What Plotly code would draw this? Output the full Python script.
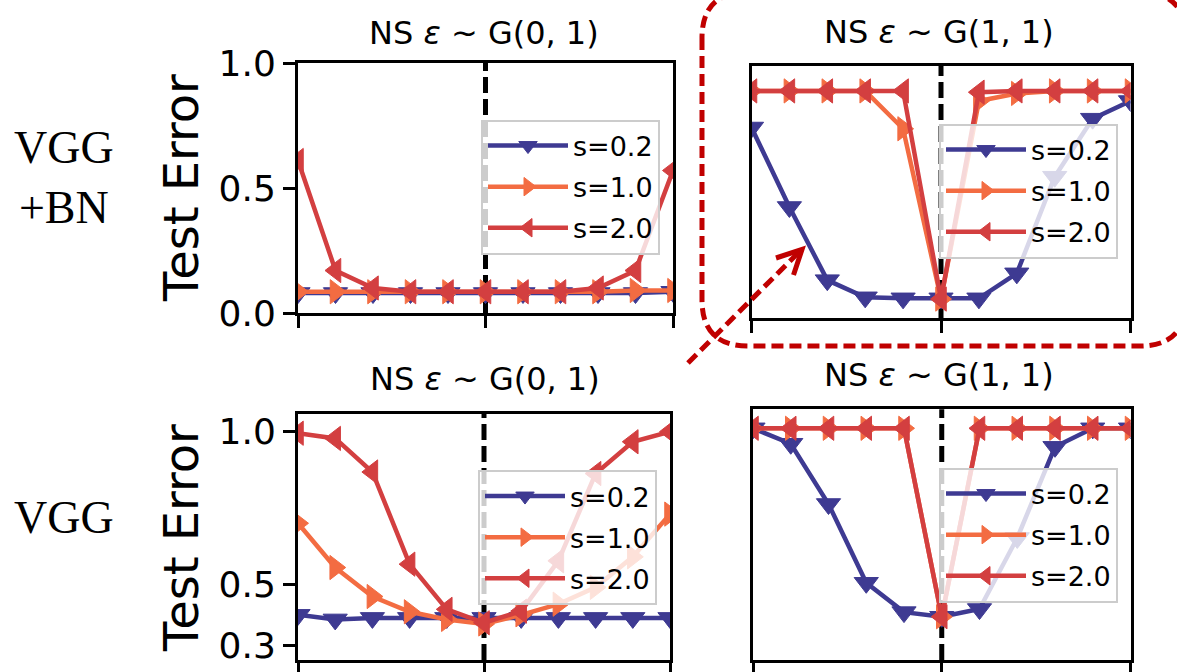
import plotly.graph_objects as go

W, H = 1177, 672

# ---------------- data ----------------
x_steps = list(range(11))
series_names = ["s=0.2", "s=1.0", "s=2.0"]

bn_g0_s02 = [0.08, 0.08, 0.08, 0.08, 0.08, 0.08, 0.08, 0.08, 0.08, 0.08, 0.085]
bn_g0_s10 = [0.085, 0.085, 0.085, 0.085, 0.085, 0.085, 0.085, 0.085, 0.085, 0.09, 0.09]
bn_g0_s20 = [0.61, 0.17, 0.10, 0.085, 0.085, 0.085, 0.085, 0.085, 0.10, 0.17, 0.57]

bn_g1_s02 = [0.755, 0.44, 0.15, 0.082, 0.078, 0.078, 0.078, 0.177, 0.56, 0.79, 0.86]
bn_g1_s10 = [0.9, 0.9, 0.9, 0.9, 0.75, 0.075, 0.86, 0.89, 0.9, 0.9, 0.9]
bn_g1_s20 = [0.9, 0.9, 0.9, 0.9, 0.9, 0.075, 0.895, 0.9, 0.9, 0.9, 0.9]

vgg_g0_s02 = [0.40, 0.385, 0.39, 0.39, 0.39, 0.39, 0.39, 0.39, 0.39, 0.39, 0.39]
vgg_g0_s10 = [0.70, 0.555, 0.46, 0.41, 0.385, 0.37, 0.40, 0.435, 0.49, 0.59, 0.73]
vgg_g0_s20 = [0.995, 0.978, 0.868, 0.566, 0.418, 0.374, 0.412, 0.577, 0.863, 0.967, 1.0]

vgg_g1_s02 = [1.0, 0.95, 0.755, 0.50, 0.405, 0.39, 0.415, 0.645, 0.94, 1.0, 1.0]
vgg_g1_s10 = [1.0, 1.0, 1.0, 1.0, 1.0, 0.39, 1.0, 1.0, 1.0, 1.0, 1.0]
vgg_g1_s20 = [1.0, 1.0, 1.0, 1.0, 1.0, 0.39, 1.0, 1.0, 1.0, 1.0, 1.0]

panel_titles = ["NS <i>ε</i> ~ G(0, 1)", "NS <i>ε</i> ~ G(1, 1)",
                "NS <i>ε</i> ~ G(0, 1)", "NS <i>ε</i> ~ G(1, 1)"]
row_labels = ["VGG<br>+BN", "VGG"]
ylabel = "Test Error"
top_yticks = [0.0, 0.5, 1.0]
top_yticklabels = ["0.0", "0.5", "1.0"]
bot_yticks = [0.3, 0.5, 1.0]
bot_yticklabels = ["0.3", "0.5", "1.0"]

panels = [
    [bn_g0_s02, bn_g0_s10, bn_g0_s20],
    [bn_g1_s02, bn_g1_s10, bn_g1_s20],
    [vgg_g0_s02, vgg_g0_s10, vgg_g0_s20],
    [vgg_g1_s02, vgg_g1_s10, vgg_g1_s20],
]

# ---------------- styling ----------------
colors = ["#3e3a92", "#f36c42", "#d33f40"]
symbols = ["triangle-down", "triangle-right", "triangle-left"]
FONT = "DejaVu Sans"


def px(x):
    return x / W


def py(y):
    return 1 - y / H


# pixel boxes of the four panels: (left, right, top, bottom)
boxes = [(298, 673, 63, 313), (751.5, 1130.5, 65.7, 318),
         (298, 670, 414, 660), (753, 1130.5, 409.3, 660)]
yranges = [[0, 1], [0, 1], [0.252, 1.058], [0.250, 1.0615]]
legend_pos = [(660, 187), (1118, 191), (657, 537.5), (1118, 535)]

fig = go.Figure()

for i, data in enumerate(panels):
    ax = "" if i == 0 else str(i + 1)
    leg = "legend" if i == 0 else "legend%d" % (i + 1)
    for j, ys in enumerate(data):
        fig.add_trace(go.Scatter(
            x=x_steps, y=ys, mode="lines+markers", name=series_names[j],
            xaxis="x" + ax, yaxis="y" + ax, legend=leg,
            legendgroup="g%d_%d" % (i, j),
            line=dict(color=colors[j], width=4.5),
            marker=dict(symbol=symbols[j], size=21, color=colors[j],
                        line=dict(color=colors[j], width=1)),
        ))
    l, r, t, b = boxes[i]
    common = dict(showline=True, linecolor="black", linewidth=3, mirror=True,
                  showgrid=False, zeroline=False, ticks="outside",
                  ticklen=12, tickwidth=3, tickcolor="black",
                  automargin=False)
    fig.layout["xaxis" + ax] = dict(
        domain=[px(l), px(r)], range=[0, 10], tickvals=[0, 5, 10],
        showticklabels=False, anchor="y" + ax, **common)
    yax = dict(domain=[py(b), py(t)], range=yranges[i], anchor="x" + ax,
               tickfont=dict(family=FONT, size=36, color="black"), **common)
    if i == 0:
        yax.update(tickvals=top_yticks, ticktext=top_yticklabels)
    elif i == 2:
        yax.update(tickvals=bot_yticks, ticktext=bot_yticklabels)
    else:
        yax.update(ticks="", showticklabels=False)
    fig.layout["yaxis" + ax] = yax

    lx, ly = legend_pos[i]
    fig.layout[leg] = dict(
        x=px(lx), y=py(ly), xanchor="right", yanchor="middle",
        xref="paper", yref="paper",
        bgcolor="rgba(255,255,255,0.8)", bordercolor="#cccccc", borderwidth=2,
        font=dict(family=FONT, size=27, color="black"),
        itemwidth=80, tracegroupgap=3, itemsizing="trace",
    )

    # vertical dashed reference line at the centre step
    fig.add_shape(type="line", xref="x" + ax, yref="y%s domain" % ax,
                  x0=5, x1=5, y0=0, y1=1, layer="below",
                  line=dict(color="black", width=5, dash="16px,6px"))

# panel titles
title_pos = [(484, 33), (939, 32), (485, 379), (939, 375)]
for i, (tx, ty) in enumerate(title_pos):
    fig.add_annotation(text=panel_titles[i], x=px(tx), y=py(ty),
                       xref="paper", yref="paper", showarrow=False,
                       xanchor="center", yanchor="middle",
                       font=dict(family=FONT, size=32, color="black"))

# y-axis labels
for yy in [188, 538]:
    fig.add_annotation(text=ylabel, x=px(181), y=py(yy), xref="paper",
                       yref="paper", showarrow=False, textangle=-90,
                       xanchor="center", yanchor="middle",
                       font=dict(family=FONT, size=48, color="black"))

# row labels
for txt, yy in zip(row_labels, [178, 517]):
    fig.add_annotation(text=txt, x=px(64), y=py(yy), xref="paper",
                       yref="paper", showarrow=False, align="center",
                       xanchor="center", yanchor="middle",
                       font=dict(family="Liberation Serif", size=46,
                                 color="black"))

# rounded dashed highlight box
RED = "#c00000"
x0, x1, y0, y1, rr = 702, 1186, -8, 346, 46
pts = [("M", x0, y0 + rr), ("L", x0, y1 - rr), ("Q", x0, y1, x0 + rr, y1),
       ("L", x1 - rr, y1), ("Q", x1, y1, x1, y1 - rr), ("L", x1, y0 + rr),
       ("Q", x1, y0, x1 - rr, y0), ("L", x0 + rr, y0),
       ("Q", x0, y0, x0, y0 + rr)]
path = ""
for seg in pts:
    cmd = seg[0]
    coords = seg[1:]
    parts = []
    for k in range(0, len(coords), 2):
        parts.append("%.5f,%.5f" % (px(coords[k]), py(coords[k + 1])))
    path += cmd + " ".join(parts) + " "
fig.add_shape(type="path", path=path, xref="paper", yref="paper",
              line=dict(color=RED, width=5, dash="12px,6px"))

# dashed arrow
fig.add_shape(type="line", xref="paper", yref="paper",
              x0=px(688), y0=py(363), x1=px(798), y1=py(253),
              line=dict(color=RED, width=5, dash="12px,6px"))
fig.add_shape(type="path", xref="paper", yref="paper",
              path="M%.5f,%.5f L%.5f,%.5f L%.5f,%.5f" % (
                  px(776), py(258), px(802), py(249.5), px(793.5), py(275)),
              line=dict(color=RED, width=5))

fig.update_layout(width=W, height=H, margin=dict(l=0, r=0, t=0, b=0),
                  paper_bgcolor="white", plot_bgcolor="white",
                  showlegend=True)

fig.write_html("out.html")
